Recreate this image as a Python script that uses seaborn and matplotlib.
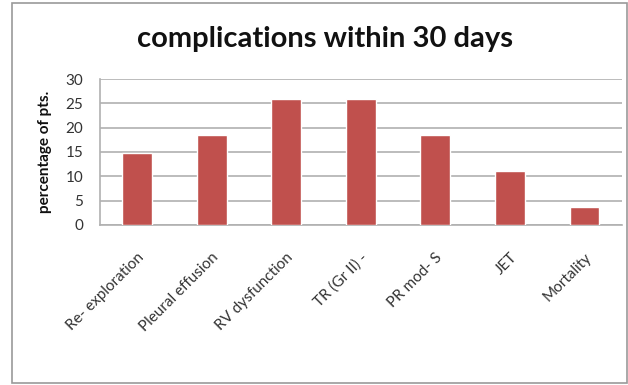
import matplotlib
matplotlib.use("Agg")
import matplotlib.pyplot as plt
import seaborn as sns
import pandas as pd
from matplotlib.patches import Rectangle

categories = ["Re- exploration", "Pleural effusion", "RV dysfunction", "TR (Gr II) -",
              "PR mod- S", "JET", "Mortality"]
values = [14.8, 18.5, 25.9, 25.9, 18.5, 11.1, 3.7]
yticks = [0, 5, 10, 15, 20, 25, 30]

df = pd.DataFrame({"complication": categories, "pct": values})

sns.set_theme(style="white")
plt.rcParams["font.family"] = ["Lato", "DejaVu Sans"]

fig = plt.figure(figsize=(6.28, 3.85), dpi=100)
ax = fig.add_axes([0.159, 0.4156, 0.831, 0.3792])

sns.barplot(data=df, x="complication", y="pct", color="#C0504D", width=0.4,
            saturation=1, ax=ax, zorder=3)

ax.set_ylim(0, 30)
ax.set_yticks(yticks)
ax.set_yticklabels([str(t) for t in yticks], fontsize=11, color="#333333")
ax.set_xlim(-0.5, len(categories) - 0.5)
ax.yaxis.grid(True, color="#b0b0b0", linewidth=1.2, zorder=0)
ax.set_axisbelow(True)
for s in ["top", "right"]:
    ax.spines[s].set_visible(False)
ax.spines["left"].set_color("#b0b0b0")
ax.spines["bottom"].set_color("#b0b0b0")
ax.spines["left"].set_linewidth(1.2)
ax.spines["bottom"].set_linewidth(1.2)
ax.tick_params(axis="y", length=0, pad=12)
ax.tick_params(axis="x", length=0, pad=18)
ax.set_xlabel("")
ax.set_ylabel("percentage of pts.", fontsize=11, fontweight="bold", labelpad=10,
              color="#111111")
ax.set_xticks(range(len(categories)))
ax.set_xticklabels(categories, rotation=45, ha="right", rotation_mode="anchor",
                   fontsize=11, color="#333333")

fig.text(0.518, 0.898, "complications within 30 days", ha="center", va="center",
         fontsize=21, fontweight="bold", color="#111111")

# outer chart frame
fig.patches.append(Rectangle((12 / 628, 2 / 385), 615 / 628, 380 / 385,
                             transform=fig.transFigure, fill=False,
                             edgecolor="#9a9a9a", linewidth=1.2))

fig.savefig("out.png", dpi=100)
